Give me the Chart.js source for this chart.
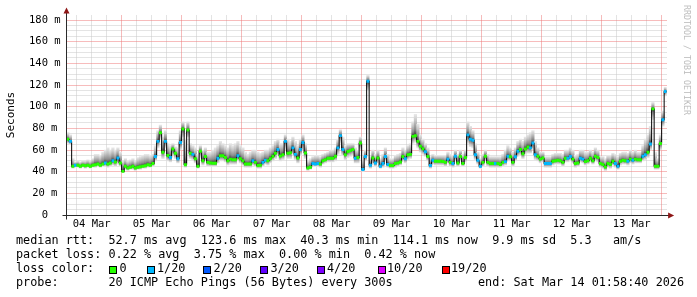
<!DOCTYPE html>
<html>
<head>
<meta charset="utf-8">
<script src="https://cdn.jsdelivr.net/npm/chart.js@4.4.1/dist/chart.umd.min.js"></script>
<style>
html,body{margin:0;padding:0;background:#fff;}
#wrap{position:relative;width:697px;height:297px;overflow:hidden;background:#fff;}
#c{position:absolute;left:0;top:0;}
.t{position:absolute;font-family:'DejaVu Sans Mono',monospace;font-size:11.8px;line-height:14px;color:#000;white-space:pre;}
.box{position:absolute;width:6px;height:6px;border:1px solid #000;}
#wm{position:absolute;left:691px;top:5px;transform:rotate(90deg);transform-origin:0 0;font-family:'DejaVu Sans Mono',monospace;font-size:8.3px;line-height:9px;color:#bdbdbd;white-space:pre;}
#ytitle{position:absolute;left:-24px;top:108px;width:70px;text-align:center;transform:rotate(-90deg);font-family:'DejaVu Sans Mono',monospace;font-size:11px;line-height:14px;color:#000;}
</style>
</head>
<body>
<div id="wrap">
<canvas id="c" width="697" height="297"></canvas>
<div id="ytitle">Seconds</div>
<div id="wm">RRDTOOL / TOBI OETIKER</div>
</div>
<script>
// ---- data (hourly bins, hours counted from 04 Mar 00:00) ----
const firstHour = 2;
const startHour = 1.9778;   // 04 Mar 01:58:40
const endHour = 241.9778;   // 14 Mar 01:58:40
const dayLabels = ['04 Mar','05 Mar','06 Mar','07 Mar','08 Mar','09 Mar','10 Mar','11 Mar','12 Mar','13 Mar'];

const medianRtt = [
  70, 68, 45, 46, 46, 45, 46, 45.5, 46, 45,
  46, 46.5, 47, 46, 47, 48, 47, 48, 50, 49,
  52.7, 48, 40.3, 45, 43.5, 44, 45, 43.5, 44, 44.5,
  45, 45.5, 46.5, 46, 47.5, 54, 68, 76, 58, 68,
  55, 53, 61, 57, 52, 67, 79.5, 46.5, 78.5, 57,
  56, 52, 45, 58.8, 50, 54, 48.6, 48, 47.8, 47.8,
  52.5, 54.7, 54.7, 53, 50, 51.6, 51, 51, 54.7, 52,
  50, 47, 47, 47, 50, 48.6, 45.7, 46, 48.6, 50.5,
  50, 52, 54.2, 57, 60.4, 54.5, 55.7, 68, 57, 57.5,
  62, 56, 52.7, 60.4, 67, 57.3, 43.5, 44, 47.5, 47,
  47.5, 47, 50, 51, 52.5, 52.5, 52.5, 54.2, 62, 73.3,
  60.4, 55.7, 58.7, 59.5, 60.4, 52.5, 53, 66.5, 42, 54,
  123.6, 46, 52.7, 48, 52.7, 45, 47.5, 54, 46.7, 45.7,
  45.7, 47.5, 48, 49, 54, 52, 55.7, 56, 72.6, 73.2,
  68, 63.4, 61.2, 58.4, 54, 45.7, 50.5, 49.7, 49.7, 49.7,
  49.5, 48.6, 51.6, 48.6, 47.5, 54.2, 48, 54, 47.5, 53,
  74, 70, 69, 55.7, 50.5, 45, 48.6, 54.2, 48.6, 47.5,
  47.5, 47.5, 47.5, 46.7, 48.6, 49.3, 54.2, 53.8, 48.6, 53.8,
  58.8, 60.4, 56.5, 61, 62.8, 62, 66.5, 55.7, 54.2, 51.6,
  52.7, 47.5, 47.5, 47.5, 49.7, 50, 50.5, 50, 48.6, 52.5,
  52.5, 54, 51.6, 47.5, 48, 52.5, 51.6, 49.3, 50, 52.5,
  50, 54.2, 53, 47.5, 46.7, 44.4, 47.5, 46.7, 49.7, 47.5,
  45, 49.7, 50.5, 50, 49.7, 51.6, 50.5, 51.6, 51, 51,
  54.2, 55.7, 58, 65.6, 98, 45, 45, 66, 88, 114.1
];

const smokeHi = [
  76, 74, 52, 49, 50, 49, 50, 50, 51, 50,
  52, 56, 56, 55, 58, 60, 62, 60, 62, 60,
  62, 58, 50, 52, 50, 51, 52, 50, 53, 54,
  55, 56, 56, 55, 56, 64, 78, 83, 72, 78,
  66, 64, 66, 63, 62, 78, 86, 70, 86, 66,
  64, 62, 56, 64, 60, 62, 58, 58, 60, 62,
  64, 68, 66, 64, 62, 66, 64, 66, 68, 64,
  62, 58, 56, 58, 60, 60, 58, 57, 58, 60,
  60, 62, 64, 68, 70, 66, 66, 74, 70, 68,
  72, 68, 64, 70, 74, 66, 50, 52, 54, 55,
  55, 54, 56, 57, 58, 60, 60, 62, 70, 79,
  72, 64, 66, 66, 66, 62, 60, 72, 50, 60,
  129, 54, 60, 56, 60, 52, 56, 62, 56, 52,
  52, 55, 56, 57, 62, 60, 64, 66, 86, 93,
  84, 74, 70, 66, 62, 54, 56, 55, 55, 55,
  55, 55, 58, 56, 55, 60, 56, 60, 56, 60,
  86, 82, 78, 66, 58, 52, 56, 60, 56, 54,
  54, 54, 54, 54, 56, 60, 64, 62, 58, 62,
  68, 70, 68, 72, 74, 76, 78, 68, 62, 58,
  58, 54, 54, 54, 56, 57, 57, 57, 56, 60,
  60, 62, 60, 55, 56, 60, 60, 58, 58, 60,
  58, 62, 60, 54, 54, 52, 55, 55, 57, 56,
  54, 57, 58, 58, 57, 60, 58, 60, 58, 58,
  64, 70, 74, 82, 104, 58, 52, 74, 96, 118
];

const smokeLo = [
  66, 65, 43, 44, 44, 43, 44, 43, 44, 43,
  44, 44, 45, 44, 45, 45, 44, 45, 46, 45,
  47, 45, 39, 42, 41, 42, 42, 41, 42, 42,
  43, 43, 44, 44, 45, 50, 62, 70, 52, 62,
  50, 49, 55, 52, 48, 60, 72, 44, 72, 52,
  51, 48, 43, 53, 46, 50, 45, 45, 45, 45,
  48, 50, 50, 49, 46, 47, 47, 47, 50, 48,
  46, 44, 44, 44, 46, 45, 43, 43, 45, 47,
  46, 48, 50, 52, 55, 50, 51, 60, 52, 52,
  56, 51, 48, 55, 60, 52, 41, 42, 45, 45,
  45, 44, 47, 48, 49, 49, 49, 50, 56, 66,
  55, 51, 53, 54, 55, 48, 48, 60, 40, 50,
  115, 43, 48, 45, 48, 43, 44, 50, 44, 43,
  43, 44, 45, 46, 50, 48, 51, 52, 66, 67,
  62, 58, 56, 54, 50, 43, 47, 46, 46, 46,
  46, 45, 48, 45, 44, 50, 45, 50, 45, 49,
  66, 63, 62, 51, 47, 43, 45, 50, 45, 44,
  44, 44, 44, 44, 45, 46, 50, 50, 45, 50,
  54, 55, 52, 56, 57, 57, 60, 51, 50, 48,
  49, 44, 44, 44, 46, 47, 47, 47, 45, 49,
  49, 50, 48, 44, 45, 49, 48, 46, 47, 49,
  47, 50, 49, 44, 43, 41, 44, 43, 46, 44,
  42, 46, 47, 47, 46, 48, 47, 48, 48, 48,
  50, 51, 53, 60, 88, 42, 42, 60, 82, 110
];

// lost pings out of 20 per bin
const lossCount = [
  0,1,0,1,0,0,0,0,0,0,
  0,0,0,0,0,1,0,0,1,0,
  1,0,0,0,0,0,0,0,0,0,
  0,0,0,0,0,1,1,0,0,1,
  0,1,0,0,1,1,0,0,0,0,
  1,0,0,0,0,0,0,0,0,0,
  1,0,0,0,0,0,0,0,1,0,
  0,0,0,0,1,0,0,0,1,1,
  0,0,0,0,1,0,0,1,0,0,
  1,1,0,1,1,0,0,0,1,1,
  1,0,0,0,0,0,0,0,1,1,
  1,0,0,0,0,1,0,0,1,1,
  1,1,0,1,0,1,1,1,1,0,
  0,0,0,0,0,1,0,0,0,0,
  0,0,0,1,0,1,1,0,0,0,
  0,0,1,0,1,1,0,0,0,0,
  1,1,1,1,1,1,0,0,0,0,
  0,1,0,0,0,1,1,0,0,1,
  1,0,0,0,0,1,1,1,0,0,
  0,1,1,1,0,0,0,0,0,0,
  1,1,0,0,0,1,1,0,0,0,
  0,0,0,0,0,0,0,0,0,1,
  1,0,0,0,1,0,1,0,0,0,
  1,1,0,1,0,0,0,0,1,1
];

const lossLevels = [0, 1, 2, 3, 4, 10, 19];
const lossLabels = ['0', '1/20', '2/20', '3/20', '4/20', '10/20', '19/20'];
const lossColors = ['#26ff00', '#00b8ff', '#0059ff', '#5e00ff', '#7e00ff', '#dd00ff', '#ff0000'];

const statsRtt  = 'median rtt:  52.7 ms avg  123.6 ms max  40.3 ms min  114.1 ms now  9.9 ms sd  5.3   am/s';
const statsLoss = 'packet loss: 0.22 % avg  3.75 % max  0.00 % min  0.42 % now';
const lossTitle = 'loss color:';
const probeText = 'probe:       20 ICMP Echo Pings (56 Bytes) every 300s';
const endText   = 'end: Sat Mar 14 01:58:40 2026';

// ---- helpers ----
function colorForLoss(n) {
  let c = lossColors[0];
  for (let k = 0; k < lossLevels.length; k++) if (n >= lossLevels[k]) c = lossColors[k];
  return c;
}
const xs = medianRtt.map((_, i) => firstHour + i + 0.5);
const xGrid = []; for (let h = 6; h <= 240; h += 6) xGrid.push(h);
const yGrid = []; for (let v = 0; v <= 180; v += 5) yGrid.push(v);

const RED = 'rgb(238,120,120)';
const GRAY = 'rgb(200,200,200)';

function smokeGrad(c, edge) {
  const chart = c.chart, i = c.dataIndex;
  if (i === undefined || !chart.scales || !chart.scales.y) return '#a0a0a0';
  const y0 = chart.scales.y.getPixelForValue(medianRtt[i]);
  const y1 = chart.scales.y.getPixelForValue(edge[i]);
  if (!isFinite(y0) || !isFinite(y1) || Math.abs(y1 - y0) < 0.5) return '#404040';
  const g = chart.ctx.createLinearGradient(0, y0, 0, y1);
  g.addColorStop(0, '#333333');
  g.addColorStop(0.3, '#8c8c8c');
  g.addColorStop(0.7, '#c6c6c6');
  g.addColorStop(1, '#e8e8e8');
  return g;
}

// dotted rrdtool-style grid drawn from the library's scales, below the data
const gridPlugin = {
  id: 'rrdGrid',
  beforeDatasetsDraw(chart) {
    const ctx = chart.ctx, a = chart.chartArea, xs_ = chart.scales.x, ys_ = chart.scales.y;
    const left = Math.round(a.left), right = Math.round(a.right);
    const top = Math.round(a.top), bottom = Math.round(a.bottom);
    ctx.save();
    ctx.lineWidth = 1;
    ctx.setLineDash([1, 1]);
    ctx.lineDashOffset = 0.5;
    const line = (x1, y1, x2, y2, col) => {
      ctx.strokeStyle = col; ctx.beginPath(); ctx.moveTo(x1, y1); ctx.lineTo(x2, y2); ctx.stroke();
    };
    for (const pass of [0, 1]) {
      ys_.ticks.forEach(t => {
        if (t.value === 0) return;
        const major = t.value % 20 === 0;
        if ((pass === 1) !== major) return;
        const y = Math.floor(ys_.getPixelForValue(t.value)) + 0.5;
        line(left, y, right, y, major ? RED : GRAY);
      });
      xs_.ticks.forEach(t => {
        const major = t.value % 24 === 0;
        if ((pass === 1) !== major) return;
        const x = Math.floor(xs_.getPixelForValue(t.value)) + 0.5;
        line(x, top, x, bottom, major ? RED : GRAY);
      });
    }
    ctx.restore();
  }
};

const axisPlugin = {
  id: 'rrdAxes',
  afterDraw(chart) {
    const ctx = chart.ctx, a = chart.chartArea;
    const ax = Math.floor(a.left) + 0.5, ay = Math.floor(a.bottom) + 0.5;
    ctx.save();
    ctx.strokeStyle = '#2a2a2a';
    ctx.lineWidth = 1;
    ctx.beginPath();
    ctx.moveTo(ax, 11); ctx.lineTo(ax, ay + 4);
    ctx.moveTo(ax - 4, ay); ctx.lineTo(a.right + 3, ay);
    ctx.stroke();
    ctx.fillStyle = '#8e1616';
    ctx.beginPath();
    ctx.moveTo(ax - 3, 13.5); ctx.lineTo(ax + 3, 13.5); ctx.lineTo(ax, 7.5); ctx.closePath();
    ctx.fill();
    ctx.beginPath();
    ctx.moveTo(a.right + 1.5, ay - 3); ctx.lineTo(a.right + 1.5, ay + 3); ctx.lineTo(a.right + 7.5, ay); ctx.closePath();
    ctx.fill();
    ctx.restore();
  }
};

Chart.defaults.font.family = "'DejaVu Sans Mono', monospace";

new Chart(document.getElementById('c'), {
  type: 'bar',
  data: {
    datasets: [
      {
        type: 'line',
        data: xs.map((x, i) => ({ x, y: medianRtt[i] })),
        stepped: 'middle',
        borderColor: '#000',
        borderWidth: 1,
        pointStyle: 'rect',
        pointRadius: 2.1,
        pointHoverRadius: 2.1,
        pointBorderWidth: 0,
        pointBackgroundColor: lossCount.map(colorForLoss),
        order: 0
      },
      {
        type: 'bar',
        data: xs.map((x, i) => ({ x, y: [medianRtt[i], smokeHi[i]] })),
        backgroundColor: c => smokeGrad(c, smokeHi),
        borderWidth: 0,
        barPercentage: 1,
        categoryPercentage: 1,
        grouped: false,
        order: 2
      },
      {
        type: 'bar',
        data: xs.map((x, i) => ({ x, y: [smokeLo[i], medianRtt[i]] })),
        backgroundColor: c => smokeGrad(c, smokeLo),
        borderWidth: 0,
        barPercentage: 1,
        categoryPercentage: 1,
        grouped: false,
        order: 2
      }
    ]
  },
  options: {
    responsive: false,
    animation: false,
    devicePixelRatio: 1,
    events: [],
    layout: { padding: { left: 0, top: 15, right: 30.4, bottom: 0 } },
    plugins: { legend: { display: false }, tooltip: { enabled: false } },
    scales: {
      x: {
        type: 'linear',
        min: startHour,
        max: endHour,
        offset: false,
        afterBuildTicks: s => { s.ticks = xGrid.map(v => ({ value: v })); },
        afterFit: s => { s.height = 82; },
        ticks: {
          autoSkip: false, maxRotation: 0, padding: 3, color: '#000',
          font: { size: 10.5 },
          callback: v => (v % 24 === 12 ? dayLabels[(v - 12) / 24] : '')
        },
        grid: { display: false, drawTicks: false },
        border: { display: false }
      },
      y: {
        type: 'linear',
        min: 0,
        max: 184.7,
        afterBuildTicks: s => { s.ticks = yGrid.map(v => ({ value: v })); },
        afterFit: s => { s.width = 66.6; },
        ticks: {
          autoSkip: false, crossAlign: 'center', padding: 6, color: '#000',
          font: { size: 10.5 },
          callback: v => (v % 20 === 0 ? (v === 0 ? '0' : v + ' m') : '')
        },
        grid: { display: false, drawTicks: false },
        border: { display: false }
      }
    }
  },
  plugins: [gridPlugin, axisPlugin]
});

// ---- legend text (monospace columns) ----
const wrap = document.getElementById('wrap');
const CW = 7.107, LX = 16;
function placeWords(str, top, x0) {
  const re = /\S+/g; let m;
  while ((m = re.exec(str))) {
    const s = document.createElement('span');
    s.className = 't';
    s.textContent = m[0];
    s.style.left = (x0 + m.index * CW) + 'px';
    s.style.top = top + 'px';
    wrap.appendChild(s);
  }
}
placeWords(statsRtt, 233, LX);
placeWords(statsLoss, 247, LX);
placeWords(lossTitle, 261, LX);
placeWords(probeText, 275, LX);
placeWords(endText, 275, LX + 65 * CW);

const boxX = [109, 146.5, 203, 260, 316.5, 377.5, 441.5];
const labX = [119.5, 157, 213.5, 270.5, 327, 387, 451];
lossLabels.forEach((lab, k) => {
  const b = document.createElement('div');
  b.className = 'box';
  b.style.left = boxX[k] + 'px';
  b.style.top = '265.5px';
  b.style.background = lossColors[k];
  wrap.appendChild(b);
  const s = document.createElement('span');
  s.className = 't';
  s.textContent = lab;
  s.style.left = labX[k] + 'px';
  s.style.top = '261px';
  wrap.appendChild(s);
});
</script>
</body>
</html>
